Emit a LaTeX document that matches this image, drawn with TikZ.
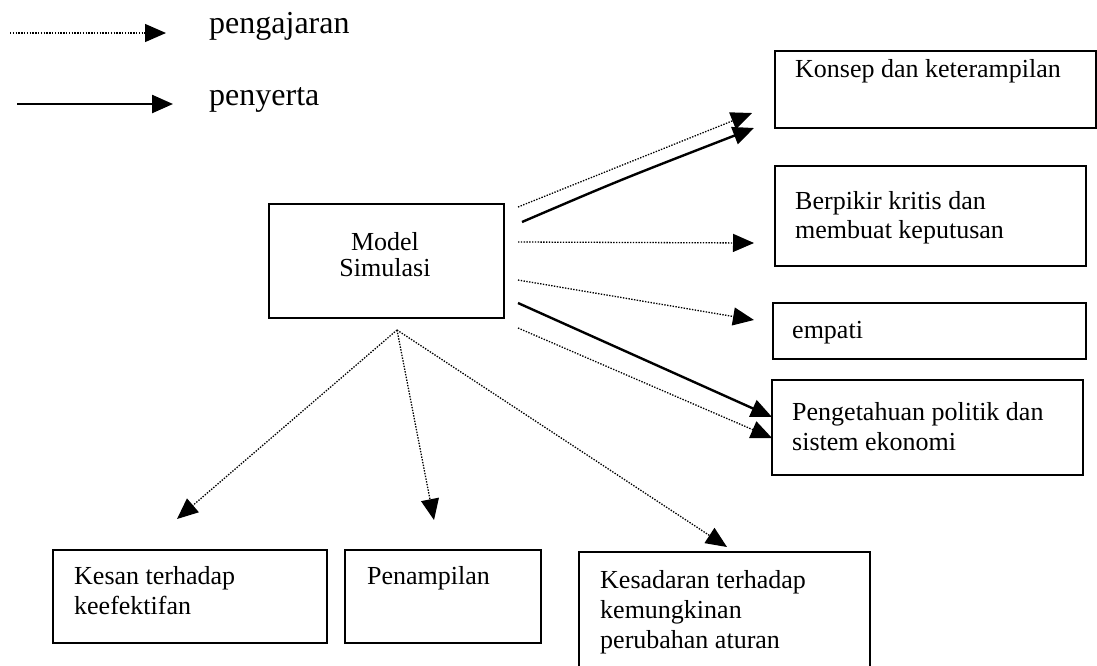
\documentclass[tikz,border=0pt]{standalone}
\usepackage{fontspec}
\setmainfont{Liberation Serif}
\usetikzlibrary{arrows.meta}
\begin{document}
\begin{tikzpicture}[x=1pt,y=-1pt,
  box/.style={draw,line width=1.8pt,inner sep=0pt,anchor=north west},
  txt/.style={anchor=base west,inner sep=0pt,font=\fontsize{26}{30}\selectfont},
  ctxt/.style={anchor=base,inner sep=0pt,font=\fontsize{26}{30}\selectfont},
  leg/.style={anchor=base west,inner sep=0pt,font=\fontsize{32}{36}\selectfont},
  tip/.style={-{Triangle[length=21pt,width=18pt]}},
  dotline/.style={tip,line width=1.3pt,dash pattern=on 1.4pt off 1.4pt},
  solidline/.style={tip,line width=2.4pt}]
\useasboundingbox (0,0) rectangle (1097,665);
\clip (0,0) rectangle (1097,665);
% legend
\coordinate (l1a) at (10,33); \coordinate (l1b) at (166,33);
\coordinate (l2a) at (17,104); \coordinate (l2b) at (173,104);
\draw[dotline] (l1a) -- (l1b);
\draw[solidline] (l2a) -- (l2b);
\node[leg] (tpeng) at (209,33) {pengajaran};
\node[leg] (tpeny) at (209,105) {penyerta};
% boxes
\node[box,minimum width=321pt,minimum height=77pt] (konsep) at (774,50) {};
\node[box,minimum width=311pt,minimum height=100pt] (berpikir) at (774,165) {};
\node[box,minimum width=313pt,minimum height=56pt] (empati) at (772,302) {};
\node[box,minimum width=311pt,minimum height=95pt] (penget) at (771,379) {};
\node[box,minimum width=235pt,minimum height=114pt] (model) at (268,203) {};
\node[box,minimum width=274pt,minimum height=93pt] (kesan) at (52,549) {};
\node[box,minimum width=196pt,minimum height=93pt] (penamp) at (344,549) {};
\node[box,minimum width=291pt,minimum height=130pt] (kesadaran) at (578,551) {};
% texts
\node[txt] (t1) at (795,77) {Konsep dan keterampilan};
\node[txt] (t2a) at (795,209) {Berpikir kritis dan};
\node[txt] (t2b) at (795,238) {membuat keputusan};
\node[txt] (t3) at (792,338) {empati};
\node[txt] (t4a) at (792,420) {Pengetahuan politik dan};
\node[txt] (t4b) at (792,450) {sistem ekonomi};
\node[ctxt] (t5a) at (385,250) {Model};
\node[ctxt] (t5b) at (385,276) {Simulasi};
\node[txt] (t6a) at (74,584) {Kesan terhadap};
\node[txt] (t6b) at (74,614) {keefektifan};
\node[txt] (t7) at (367,584) {Penampilan};
\node[txt] (t8a) at (600,588) {Kesadaran terhadap};
\node[txt] (t8b) at (600,618) {kemungkinan};
\node[txt] (t8c) at (600,648) {perubahan aturan};
% arrow ends
\coordinate (s1) at (518,207); \coordinate (e1) at (752,113);
\coordinate (s2) at (522,222); \coordinate (e2) at (754,128);
\coordinate (s3) at (518,242); \coordinate (e3) at (754,243);
\coordinate (s4) at (518,280); \coordinate (e4) at (754,320);
\coordinate (s5) at (518,303); \coordinate (e5) at (772,417);
\coordinate (s6) at (518,328); \coordinate (e6) at (772,438);
\coordinate (o) at (397,330);
\coordinate (e7) at (177,519);
\coordinate (e8) at (434,520);
\coordinate (e9) at (727,547);
\draw[dotline] (s1) -- (e1);
\draw[solidline] (s2) .. controls (620,180) .. (e2);
\draw[dotline] (s3) -- (e3);
\draw[dotline] (s4) -- (e4);
\draw[solidline] (s5) -- (e5);
\draw[dotline] (s6) -- (e6);
\draw[dotline] (o) -- (e7);
\draw[dotline] (o) -- (e8);
\draw[dotline] (o) -- (e9);
\end{tikzpicture}
\end{document}
